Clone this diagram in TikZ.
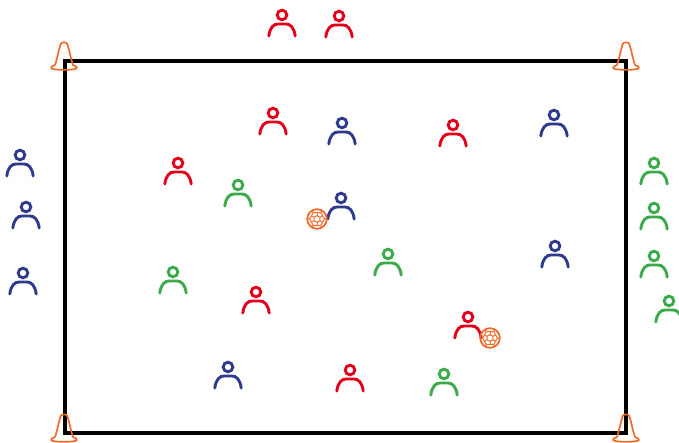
\documentclass[tikz,border=0pt]{standalone}
\usepackage{xcolor}
\usetikzlibrary{calc}
\definecolor{teamred}{HTML}{E2001A}
\definecolor{teamblue}{HTML}{2E3A8C}
\definecolor{teamgreen}{HTML}{3BAA4A}
\definecolor{coneorange}{HTML}{EE6C2B}
\tikzset{
  player/.pic={
    \draw[line width=2.9pt] (0,0) circle (4.8);
    \draw[line width=2.9pt,line cap=round] (-13.2,21) .. controls (-12,12) and (-8,9) .. (-4,9) -- (4,9) .. controls (8,9) and (12,12) .. (13.2,21);
  },
  cone/.pic={
    \draw[coneorange,line width=1.7pt,line join=round] (-9,23) .. controls (-7,18) and (-5,6) .. (-3,1.5) .. controls (-2,0) and (2,0) .. (3,1.5) .. controls (5,6) and (7,18) .. (9,23) .. controls (12,24) and (13,25) .. (13,26) .. controls (12,28.5) and (-12,28.5) .. (-13,26) .. controls (-13,25) and (-12,24) .. (-9,23);
  },
  ball/.pic={
    \draw[coneorange,line width=1.8pt] (0,0) circle (9.8);
    \begin{scope}[coneorange,line width=1pt]
      \draw (90:3.4) -- (150:3.4) -- (210:3.4) -- (270:3.4) -- (330:3.4) -- (30:3.4) -- cycle;
      \foreach \a in {30,90,...,330} {
        \draw (\a:3.4) -- (\a:6.4);
        \draw (\a:6.4) -- (\a+30:7.4) -- (\a+60:6.4);
        \draw (\a+30:7.4) -- (\a+30:10);
      }
    \end{scope}
  },
}
\begin{document}
\begin{tikzpicture}[x=1pt,y=-1pt]
  \useasboundingbox (0,0) rectangle (679,443);
  \draw[black,line width=4.2pt,line join=miter] (65,61) rectangle (626,433);
  % players
  \foreach \px/\py in {282/15,339/16,273/113,453/125,178/163,256/292,468/317,350/370}
    \pic[teamred] at (\px,\py) {player};
  \foreach \px/\py in {342/123,554/115,20/155,26/207,23/273,341/198,555/246,228/367}
    \pic[teamblue] at (\px,\py) {player};
  \foreach \px/\py in {654/163,654/208,654/256,669/301,238/185,173/272,388/254,444/374}
    \pic[teamgreen] at (\px,\py) {player};
  % cones and balls
  \foreach \px/\py in {64/42,626/42,64/414,626/414}
    \pic at (\px,\py) {cone};
  \pic at (317,219) {ball};
  \pic at (490,338) {ball};
\end{tikzpicture}
\end{document}
